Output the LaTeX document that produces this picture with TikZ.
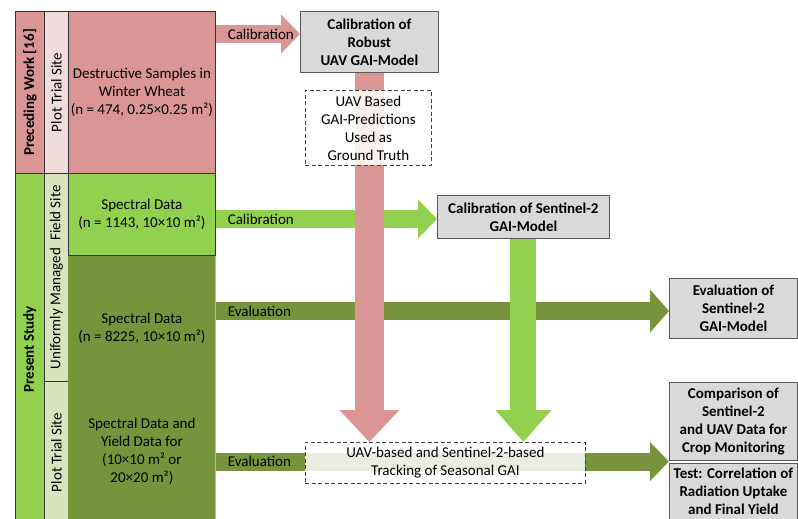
\documentclass[tikz,border=0pt]{standalone}
\usepackage{fontspec}
\setmainfont{Carlito}
\usepackage{tikz}
\usetikzlibrary{arrows.meta, calc, backgrounds}

\definecolor{redmain}{HTML}{D99694}
\definecolor{redlight}{HTML}{F2DCDB}
\definecolor{greenmain}{HTML}{92D050}
\definecolor{greenlight}{HTML}{D7E4BD}
\definecolor{olive}{HTML}{77933C}
\definecolor{boxgray}{HTML}{D9D9D9}

\tikzset{
  colbox/.style={draw=black!80, line width=0.8pt, inner sep=0pt, anchor=north west, align=center},
  modelbox/.style={draw=black!65, fill=boxgray, line width=0.8pt, inner sep=0pt, anchor=north west, align=center, font=\bfseries},
  notebox/.style={draw=black!75, dash pattern=on 4pt off 2.5pt, line width=0.8pt, fill=white, fill opacity=0.85, text opacity=1, inner sep=0pt, anchor=north west, align=center},
  hflow/.style={line width=18pt, -{Triangle[width=38pt, length=19pt]}},
  vflow/.style 2 args={line width=#1, -{Triangle[width=#2, length=32pt]}},
}

\begin{document}
\fontsize{15}{18}\selectfont
\begin{tikzpicture}[x=1pt, y=-1pt]
    \useasboundingbox (0,0) rectangle (798,519);

    % Preceding work
    \node[colbox, fill=redmain, minimum width=29pt, minimum height=162pt] (prev) at (15,11) {};
    \node[rotate=90, font=\bfseries] at (prev.center) {Preceding Work [16]};
    \node[colbox, fill=redlight, minimum width=24pt, minimum height=162pt] (prevsite) at (44,11) {};
    \node[rotate=90] at (prevsite.center) {Plot Trial Site};
    \node[colbox, fill=redmain, minimum width=147pt, minimum height=162pt] (destr) at (68,11) {Destructive Samples in\\Winter Wheat\\(n = 474, 0.25×0.25 m²)};

    % Present study
    \node[colbox, fill=greenmain, minimum width=29pt, minimum height=352pt] (present) at (15,173) {};
    \node[rotate=90, font=\bfseries] at (present.center) {Present Study};
    \node[colbox, fill=greenlight, minimum width=24pt, minimum height=208pt] (fieldsite) at (44,173) {};
    \node[rotate=90] at (fieldsite.center) {Uniformly Managed\enspace Field Site};
    \node[colbox, fill=greenlight, minimum width=24pt, minimum height=142pt] (plotsite) at (44,381) {};
    \node[rotate=90] at (plotsite.center) {Plot Trial Site};
    \node[colbox, draw=none, fill=olive, minimum width=147pt, minimum height=145pt] (evalspec) at (68,255) {Spectral Data\\(n = 8225, 10×10 m²)};
    \node[colbox, draw=none, fill=olive, minimum width=147pt, minimum height=140pt] (trialspec) at (68,381) {Spectral Data and\\Yield Data for\\(10×10 m² or\\20×20 m²)};
    \draw[black!30, line width=0.8pt] (evalspec.north east) -- (trialspec.south east);
    \node[colbox, fill=greenmain, minimum width=147pt, minimum height=82pt] (calspec) at (68,173) {Spectral Data\\(n = 1143, 10×10 m²)};

    % Models and results
    \node[modelbox, minimum width=138pt, minimum height=61pt] (robust) at (300,11) {Calibration of\\Robust\\UAV GAI-Model};
    \node[modelbox, minimum width=172pt, minimum height=43pt] (calsat) at (437,195) {Calibration of Sentinel-2\\GAI-Model};
    \node[modelbox, minimum width=128pt, minimum height=60pt] (evalsat) at (669,278) {Evaluation of\\Sentinel-2\\GAI-Model};
    \node[modelbox, minimum width=128pt, minimum height=78pt] (compare) at (669,382) {Comparison of\\Sentinel-2\\and UAV Data for\\Crop Monitoring};
    \node[modelbox, minimum width=128pt, minimum height=56pt] (testcorr) at (669,463) {Test: Correlation of\\Radiation Uptake\\and Final Yield};

    % Dashed notes
    \node[notebox, minimum width=126pt, minimum height=75pt] (truth) at (305,90) {UAV Based\\GAI-Predictions\\Used as\\Ground Truth};
    \node[notebox, minimum width=280pt, minimum height=41pt] (track) at (305,442) {UAV-based and Sentinel-2-based\\Tracking of Seasonal GAI};

    % Flows
    \begin{scope}[on background layer]
        \coordinate (rcal) at ($(destr.north east)+(0,23)$);
        \draw[hflow, draw=redmain] (rcal) -- (rcal -| robust.west) node[pos=0, anchor=west, inner sep=3pt] {Calibration};
        \coordinate (gcal) at ($(calspec.north east)+(0,46)$);
        \draw[hflow, draw=greenmain] (gcal) -- (gcal -| calsat.west) node[pos=0, anchor=west, inner sep=3pt] {Calibration};
        \coordinate (oeval) at ($(evalspec.north east)+(0,56)$);
        \draw[line width=18pt, -{Triangle[width=42pt, length=19pt]}, draw=olive] (oeval) -- (oeval -| evalsat.west) node[pos=0, anchor=west, inner sep=3pt] {Evaluation};
        \coordinate (teval) at ($(trialspec.north east)+(0,80.5)$);
        \draw[hflow, draw=olive] (teval) -- (teval -| compare.west) node[pos=0, anchor=west, inner sep=3pt] {Evaluation};
        \draw[vflow={26pt}{54pt}, draw=greenmain] (calsat.south) -- (calsat.south |- track.north);
        \draw[vflow={29pt}{58pt}, draw=redmain] (robust.south) -- (robust.south |- track.north);
    \end{scope}
\end{tikzpicture}
\end{document}
